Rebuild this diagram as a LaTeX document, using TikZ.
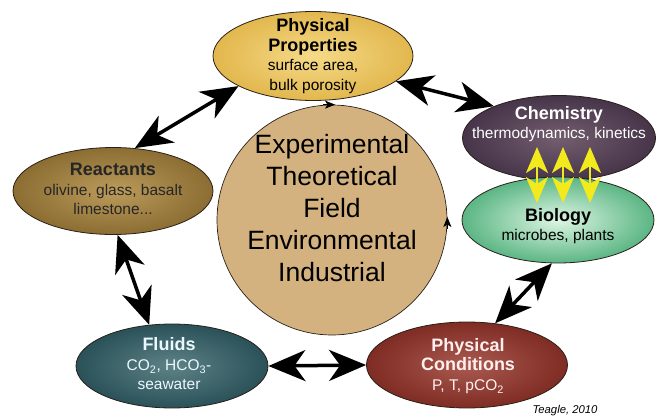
\documentclass[tikz,border=0pt]{standalone}
\usepackage{fontspec}
\setmainfont{Liberation Sans}
\usetikzlibrary{arrows.meta,shapes.geometric,calc}

% bubble colours: inner (light centre) and outer (rim)
\definecolor{ppIn}{HTML}{F6DA88}   \definecolor{ppOut}{HTML}{D9A834}
\definecolor{chIn}{HTML}{735E6E}   \definecolor{chOut}{HTML}{33223A}
\definecolor{biIn}{HTML}{DDF6E3}   \definecolor{biOut}{HTML}{22995A}
\definecolor{reIn}{HTML}{BC9C5C}   \definecolor{reOut}{HTML}{765820}
\definecolor{flIn}{HTML}{5E8287}   \definecolor{flOut}{HTML}{123C43}
\definecolor{pcIn}{HTML}{AA5A50}   \definecolor{pcOut}{HTML}{6C1810}
\definecolor{coreFill}{HTML}{D4B280}
\definecolor{rim}{HTML}{2A2018}
\definecolor{zap}{HTML}{F2EA1C}

% radial glows reaching the rim colour near the ellipse edge
\pgfdeclareradialshading{ppglow}{\pgfpointorigin}{color(0bp)=(ppIn); color(36bp)=(ppOut); color(50bp)=(ppOut)}
\pgfdeclareradialshading{chglow}{\pgfpointorigin}{color(0bp)=(chIn); color(36bp)=(chOut); color(50bp)=(chOut)}
\pgfdeclareradialshading{biglow}{\pgfpointorigin}{color(0bp)=(biIn); color(36bp)=(biOut); color(50bp)=(biOut)}
\pgfdeclareradialshading{reglow}{\pgfpointorigin}{color(0bp)=(reIn); color(36bp)=(reOut); color(50bp)=(reOut)}
\pgfdeclareradialshading{flglow}{\pgfpointorigin}{color(0bp)=(flIn); color(36bp)=(flOut); color(50bp)=(flOut)}
\pgfdeclareradialshading{pcglow}{\pgfpointorigin}{color(0bp)=(pcIn); color(36bp)=(pcOut); color(50bp)=(pcOut)}

\newcommand\hd[1]{{\fontsize{18}{21}\selectfont\bfseries #1}}

\begin{document}
\begin{tikzpicture}[x=1pt,y=-1pt,
  bubble/.style={ellipse, draw=rim, line width=0.8pt, inner sep=0pt, shade},
  caption/.style={align=center, inner sep=0pt, font=\fontsize{15.5}{19.5}\selectfont},
  link/.style={line width=3.5pt, draw=black, {Stealth[length=37pt,width=31pt,inset=11pt]}-{Stealth[length=37pt,width=31pt,inset=11pt]}},
  spark/.style={line width=2.2pt, draw=zap, {Stealth[length=26pt,width=22pt,inset=7pt]}-{Stealth[length=26pt,width=22pt,inset=7pt]}},
  tick/.style={-{Stealth[length=10pt,width=8pt,inset=2.5pt]}, line width=0.7pt}
]
\useasboundingbox (0,0) rectangle (657,418);

% central circle
\node[circle, draw=rim, line width=0.7pt, fill=coreFill, minimum size=230pt, inner sep=0pt] (core) at (332,220) {};
\node[align=center, inner sep=0pt, font=\fontsize{26.5}{32}\selectfont] (coretext) at (332,208)
  {Experimental\\Theoretical\\Field\\Environmental\\Industrial};
\draw[tick] ($(core.north)+(-9,0)$) -- ($(core.north)+(3,0)$);
\draw[tick] ($(core.east)+(0,9)$) -- ($(core.east)+(0,-3)$);

% bubbles
\node[bubble, shading=ppglow, minimum width=200pt, minimum height=89pt] (pp) at (313,56) {};
\node[bubble, shading=chglow, minimum width=193pt, minimum height=85pt] (chem) at (559,138) {};
\node[bubble, shading=biglow, minimum width=192pt, minimum height=86pt] (bio) at (558,220) {};
\node[bubble, shading=reglow, minimum width=200pt, minimum height=87pt] (react) at (113,191) {};
\node[bubble, shading=flglow, minimum width=192pt, minimum height=84pt] (fluid) at (172,366) {};
\node[bubble, shading=pcglow, minimum width=201pt, minimum height=86pt] (pcond) at (467,365) {};

% bubble texts
\node[caption] (pptext) at (313,56) {\hd{Physical}\\\hd{Properties}\\surface area,\\bulk porosity};
\node[caption, text=white] (chtext) at (559,124) {\hd{Chemistry}\\thermodynamics, kinetics};
\node[caption] (bitext) at (558,226) {\hd{Biology}\\microbes, plants};
\node[caption, text=black!85] (retext) at (113,189) {\hd{Reactants}\\olivine, glass, basalt\\limestone...};
\node[caption, text=white!92!cyan] (fltext) at (169,364) {\hd{Fluids}\\CO\textsubscript{2}, HCO\textsubscript{3}-\\seawater};
\node[caption, text=white!94!red] (pctext) at (468,366) {\hd{Physical}\\\hd{Conditions}\\P, T, pCO\textsubscript{2}};

% links between bubbles
\draw[link] (react.63) -- (pp.202);
\draw[link] (pp.343) -- (chem.154);
\draw[link] (react.276) -- (fluid.119);
\draw[link] (fluid.0) -- (pcond.180);
\draw[link] (bio.262) -- (pcond.56);

% chemistry <-> biology exchange
\coordinate (ca) at (537,147); \coordinate (cb) at (563,147); \coordinate (cc) at (590,147);
\coordinate (ba) at (537,203); \coordinate (bb) at (563,203); \coordinate (bc) at (590,203);
\draw[spark] (ca) -- (ba);
\draw[spark] (cb) -- (bb);
\draw[spark] (cc) -- (bc);

% credit
\node[anchor=base, inner sep=0pt, font=\fontsize{11.3}{13}\selectfont\itshape] (credit) at (565,413) {Teagle, 2010};
\end{tikzpicture}
\end{document}
